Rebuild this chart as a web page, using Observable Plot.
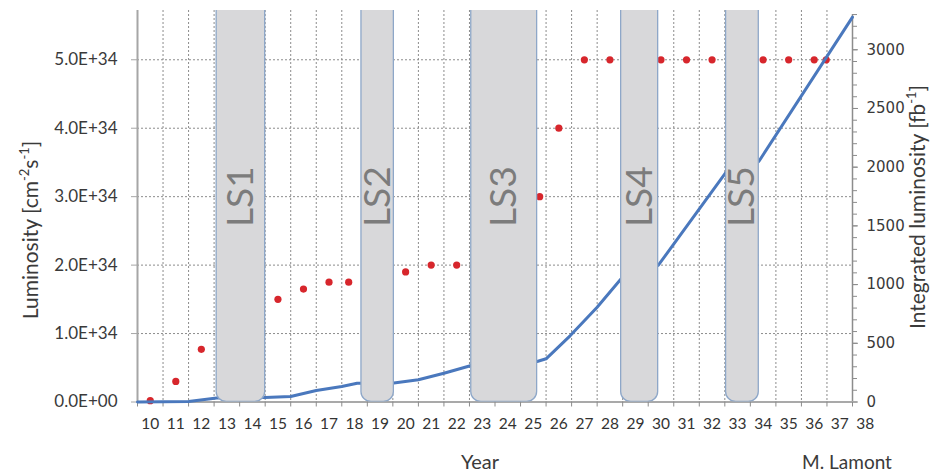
<!DOCTYPE html>
<html><head><meta charset="utf-8">
<script src="https://cdn.jsdelivr.net/npm/d3@7"></script>
<script src="https://cdn.jsdelivr.net/npm/@observablehq/plot@0.6"></script>
<style>body{margin:0;background:#fff} svg{font-family:Lato, sans-serif}</style>
</head><body><div id="chart"></div>
<script>
// x-axis categories (years)
const yearTicks = [10,11,12,13,14,15,16,17,18,19,20,21,22,23,24,25,26,27,28,29,30,31,32,33,34,35,36,37,38];
// peak luminosity (red dots), units of 1E+34 cm^-2 s^-1
const peakYears = [10.5,11.5,12.5,15.5,16.5,17.5,18.27,20.5,21.5,22.5,25.75,26.5,27.5,28.5,30.5,31.5,32.5,34.5,35.5,36.5,36.97];
const peakLumi  = [0.02,0.3,0.77,1.5,1.65,1.75,1.75,1.9,2.0,2.0,3.0,4.0,5.0,5.0,5.0,5.0,5.0,5.0,5.0,5.0,5.0];
// integrated luminosity (blue line), fb^-1
const intYears = [10,12,13.1,15.0,16,17,18,18.6,18.77,20.04,21,22,23.07,25.65,26,26.95,28,28.94,30.39,33.05,34.33,38];
const intLumi  = [0,5,35,38,47,98,132,160,160,162,189,245,311,345,368,566,807,1049,1163,1957,2048,3278];
// long shutdowns
const shutdownNames = ["LS1","LS2","LS3","LS4","LS5"];
const shutdownStart = [13.1,18.77,23.07,28.94,33.05];
const shutdownEnd   = [15.0,20.04,25.65,30.39,34.33];
// axis ticks
const leftTicks  = [0,1,2,3,4,5];
const rightMajor = [0,500,1000,1500,2000,2500,3000];
const rightMinor = [0,100,200,300,400,500,600,700,800,900,1000,1100,1200,1300,1400,1500,1600,1700,1800,1900,2000,2100,2200,2300,2400,2500,2600,2700,2800,2900,3000,3100,3200,3300];

const K = 0.0017154;   // 1 fb^-1 on right axis expressed in left-axis units (1E+34)
const YMAX = 5.72;

const peaks = peakYears.map((x,i)=>({x, y: peakLumi[i]}));
const integ = intYears.map((x,i)=>({x, y: intLumi[i]*K}));
const shut = shutdownNames.map((name,i)=>({name, x1: shutdownStart[i], x2: shutdownEnd[i]}));

const chart = Plot.plot({
  width: 934, height: 472,
  marginLeft: 137, marginRight: 82, marginTop: 10, marginBottom: 70.5,
  x: {domain: [10, 38]},
  y: {domain: [0, YMAX]},
  style: {fontFamily: "Lato, sans-serif", color: "#3a3a3a", background: "#fff"},
  marks: [
    Plot.gridX(yearTicks.slice(1, -1), {stroke: "#8c8c8c", strokeOpacity: 1, strokeDasharray: "2,2"}),
    Plot.gridY(leftTicks.slice(1), {stroke: "#8c8c8c", strokeOpacity: 1, strokeDasharray: "2,2"}),
    Plot.ruleX([10], {y1: 0, y2: YMAX, stroke: "#a6a6a6", strokeWidth: 2}),
    Plot.ruleX([38], {y1: 0, y2: 3300*K, stroke: "#8c8c8c", strokeWidth: 1.5}),
    Plot.ruleY([0], {stroke: "#8c8c8c", strokeWidth: 1.5}),
    Plot.axisY(leftTicks, {anchor: "left", tickSize: 6, tickPadding: 14, stroke: "#a6a6a6",
      tickFormat: d => d === 0 ? "0.0E+00" : d.toFixed(1) + "E+34", fontSize: 17, label: null}),
    Plot.axisY(rightMinor.map(v => v*K), {anchor: "right", tickSize: 4, stroke: "#8c8c8c", tickFormat: () => "", label: null}),
    Plot.axisY(rightMajor.map(v => v*K), {anchor: "right", tickSize: 5, tickPadding: 9, stroke: "#8c8c8c",
      tickFormat: d => String(Math.round(d / K)), fontSize: 15, fontFamily: "DejaVu Sans", label: null}),
    Plot.axisX(yearTicks, {tickSize: 5, stroke: "#8c8c8c", tickFormat: () => "", label: null}),
    Plot.text(yearTicks, {x: d => d + 0.5, y: 0, dy: 22, fontSize: 15.5, text: d => String(d), fill: "#333"}),
    Plot.dot(peaks, {x: "x", y: "y", r: 3.6, fill: "#d7262c"}),
    Plot.line(integ, {x: "x", y: "y", stroke: "#4a78bd", strokeWidth: 3}),
    Plot.rect(shut, {x1: "x1", x2: "x2", y1: 0, y2: 6.5, rx: 10, fill: "#d8d8da", stroke: "#8ea7c8", strokeWidth: 1.3, clip: true}),
    Plot.text(shut, {x: d => (d.x1 + d.x2) / 2, y: 3.0, text: "name", rotate: -90, fontSize: 37, fontWeight: 400, fill: "#7c7c7c"})
  ]
});
document.getElementById("chart").append(chart);

const svg = d3.select(chart);
const t1 = svg.append("text").attr("transform", "translate(33,230) rotate(-90)")
  .attr("text-anchor", "middle").attr("dominant-baseline", "middle")
  .attr("font-size", 21).attr("fill", "#3a3a3a");
t1.append("tspan").text("Luminosity [cm");
t1.append("tspan").attr("dy", -7).attr("font-size", 13).text("-2");
t1.append("tspan").attr("dy", 7).text("s");
t1.append("tspan").attr("dy", -7).attr("font-size", 13).text("-1");
t1.append("tspan").attr("dy", 7).text("]");

const t2 = svg.append("text").attr("transform", "translate(920,207) rotate(-90)")
  .attr("text-anchor", "middle").attr("dominant-baseline", "middle")
  .attr("font-size", 21).attr("fill", "#3a3a3a");
t2.append("tspan").text("Integrated luminosity [fb");
t2.append("tspan").attr("dy", -7).attr("font-size", 13).text("-1");
t2.append("tspan").attr("dy", 7).text("]");

svg.append("text").attr("x", 480).attr("y", 469).attr("text-anchor", "middle")
  .attr("font-size", 20).attr("fill", "#3a3a3a").text("Year");
svg.append("text").attr("x", 847).attr("y", 469).attr("text-anchor", "middle")
  .attr("font-size", 19).attr("fill", "#3a3a3a").text("M. Lamont");
</script>
</body></html>
